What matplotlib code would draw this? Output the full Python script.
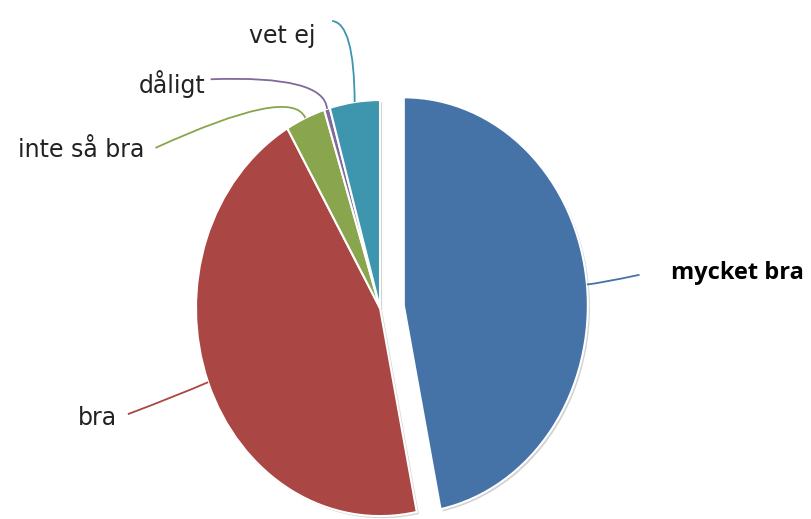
import matplotlib
matplotlib.use("Agg")
import numpy as np
import matplotlib.pyplot as plt
from matplotlib.path import Path
from matplotlib.patches import PathPatch
import matplotlib.patheffects as pe

# answers and their shares (percent)
labels = ["mycket bra", "bra", "inte så bra", "dåligt", "vet ej"]
shares = [46.8, 44.8, 3.5, 0.5, 4.4]
colors = ["#4572A7", "#AA4643", "#89A54E", "#80699B", "#3D96AE"]
explode = [0.13, 0, 0, 0, 0]

# label text position, connector start and bend point (data units)
label_pos = [(1.58, 0.17), (-1.43, -0.53), (-1.28, 0.76), (-0.95, 1.075), (-0.35, 1.31)]
label_ha = ["left", "right", "right", "right", "right"]
conn_start = [(1.41, 0.16), (-1.37, -0.51), (-1.22, 0.77), (-0.92, 1.1), (-0.26, 1.38)]
conn_bend = [(1.2, 0.12), (-1.1, -0.42), (-0.48, 1.07), (-0.3, 1.12), (-0.14, 1.37)]

fig = plt.figure(figsize=(8.11, 5.19), dpi=100)
ax = fig.add_axes([0, 0, 1, 1])

wedges, _ = ax.pie(shares, colors=colors, explode=explode, startangle=90,
                   counterclock=False,
                   wedgeprops=dict(edgecolor="white", linewidth=1.5))
for w in wedges:
    w.set_path_effects([pe.SimplePatchShadow(offset=(1.5, -1.5), shadow_rgbFace="gray", alpha=0.35),
                        pe.Normal()])

ax.set_aspect("auto")
ax.set_xlim(-2.065, 2.342)
ax.set_ylim(-1.014, 1.481)
ax.axis("off")

# connectors and labels
for i, w in enumerate(wedges):
    mid = np.deg2rad((w.theta1 + w.theta2) / 2)
    cx, cy = w.center
    end = (cx + np.cos(mid), cy + np.sin(mid))
    path = Path([conn_start[i], conn_bend[i], end],
                [Path.MOVETO, Path.CURVE3, Path.CURVE3])
    ax.add_patch(PathPatch(path, fill=False, edgecolor=colors[i], linewidth=1.3))
    if i == 0:
        ax.text(label_pos[i][0], label_pos[i][1], labels[i], ha=label_ha[i], va="center",
                fontsize=17, fontweight="bold", color="black", family="Open Sans")
    else:
        ax.text(label_pos[i][0], label_pos[i][1], labels[i], ha=label_ha[i], va="center",
                fontsize=17, color="#222222", family="DejaVu Sans")

fig.savefig("out.png", dpi=100)
